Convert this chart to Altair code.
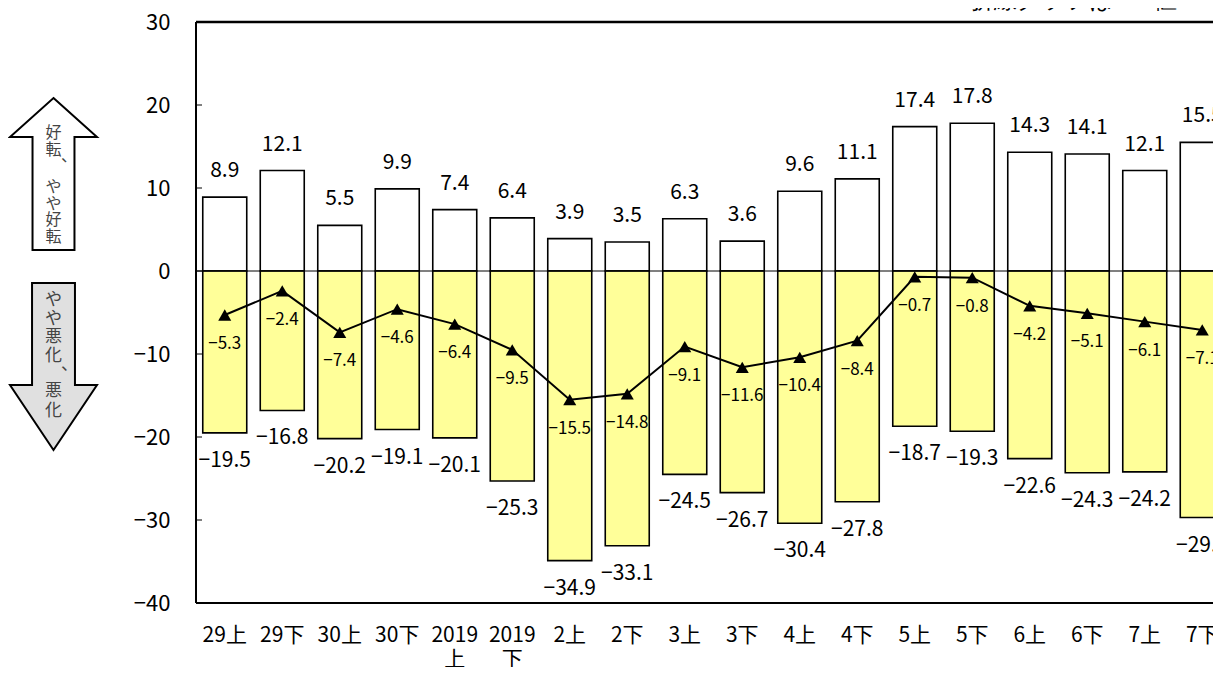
import altair as alt
import pandas as pd

# ---- data ----
categories = ["29上", "29下", "30上", "30下", "2019|上", "2019|下", "2上", "2下", "3上",
              "3下", "4上", "4下", "5上", "5下", "6上", "6下", "7上", "7下"]
improve = [8.9, 12.1, 5.5, 9.9, 7.4, 6.4, 3.9, 3.5, 6.3, 3.6, 9.6, 11.1, 17.4, 17.8, 14.3, 14.1, 12.1, 15.5]
worsen = [-19.5, -16.8, -20.2, -19.1, -20.1, -25.3, -34.9, -33.1, -24.5, -26.7, -30.4, -27.8,
          -18.7, -19.3, -22.6, -24.3, -24.2, -29.7]
bsi = [-5.3, -2.4, -7.4, -4.6, -6.4, -9.5, -15.5, -14.8, -9.1, -11.6, -10.4, -8.4,
       -0.7, -0.8, -4.2, -5.1, -6.1, -7.1]
y_ticks = [-40, -30, -20, -10, 0, 10, 20, 30]
note_text = "折線グラフはBSI値"
up_text_a = ["好", "転"]
up_text_b = ["や", "や", "好", "転"]
down_text_a = ["や", "や", "悪", "化"]
down_text_b = ["悪", "化"]


def fmt(v):
    return f"{v:.1f}".replace("-", "\u2212")


df = pd.DataFrame({
    "cat": categories,
    "pos": improve,
    "neg": worsen,
    "bsi": bsi,
    "zero": [0] * len(categories),
    "pos_l": [fmt(v) for v in improve],
    "neg_l": [fmt(v) for v in worsen],
    "bsi_l": [fmt(v) for v in bsi],
})
ticks_df = pd.DataFrame({"t": y_ticks})
one = pd.DataFrame({"a": [0]})

FONT = "Noto Sans CJK JP"
W, H = 1017, 581      # visible plot width (the band range runs past the window edge)
RANGE_W = 1035

x = alt.X("cat:N", sort=categories,
          scale=alt.Scale(range=[0, RANGE_W], paddingInner=0.235, paddingOuter=0.1175),
          axis=alt.Axis(title=None, labelAngle=0, labelExpr="split(datum.label, '|')",
                        labelFontSize=21, labelFont=FONT, labelColor="black",
                        ticks=False, domain=False, labelPadding=21, labelLineHeight=24))
yscale = alt.Scale(domain=[-40, 30], nice=False, zero=False)


def Y(field):
    return alt.Y(field, type="quantitative", scale=yscale,
                 axis=alt.Axis(values=y_ticks, title=None, grid=False, domain=False, ticks=False,
                               labelPadding=26, labelFontSize=22, labelFont=FONT,
                               labelColor="black", format="d"))


base = alt.Chart(df)

bars_pos = base.mark_bar(fill="white", stroke="black", strokeWidth=1.6).encode(
    x=x, y=Y("pos"), y2="zero")
bars_neg = base.mark_bar(fill="#FFFF99", stroke="black", strokeWidth=1.6).encode(
    x=x, y=Y("neg"), y2="zero")
zero_rule = alt.Chart(one).mark_rule(color="black", strokeWidth=1).encode(
    y=alt.datum(0), x=alt.value(0), x2=alt.value(RANGE_W))
line = base.mark_line(color="black", strokeWidth=2).encode(x=x, y=Y("bsi"))
pts = base.mark_point(shape="triangle-up", size=170, filled=True, color="black", opacity=1).encode(
    x=x, y=Y("bsi"))

lab_pos = base.mark_text(fontSize=21, font=FONT, color="black", baseline="middle", dy=-26).encode(
    x=x, y=Y("pos"), text="pos_l")
lab_neg = base.mark_text(fontSize=21, font=FONT, color="black", baseline="middle", dy=28).encode(
    x=x, y=Y("neg"), text="neg_l")
lab_bsi = base.mark_text(fontSize=17, font=FONT, color="black", baseline="middle", dy=29).encode(
    x=x, y=Y("bsi"), text="bsi_l")

tick_rules = alt.Chart(ticks_df).mark_rule(color="black", strokeWidth=1).encode(
    y=Y("t"), x=alt.value(0), x2=alt.value(6))

# plot frame (right side lies outside the window)
frame_top = alt.Chart(one).mark_rule(color="black", strokeWidth=2.5).encode(
    x=alt.value(0), x2=alt.value(RANGE_W), y=alt.value(0))
frame_bottom = alt.Chart(one).mark_rule(color="black", strokeWidth=2).encode(
    x=alt.value(0), x2=alt.value(RANGE_W), y=alt.value(H))
frame_left = alt.Chart(one).mark_rule(color="black", strokeWidth=2).encode(
    x=alt.value(0), y=alt.value(0), y2=alt.value(H))

up_path = ("M0,-1 L0.572,-0.487 L0.276,-0.487 L0.276,1 L-0.276,1 L-0.276,-0.487 "
           "L-0.572,-0.487 Z")
down_path = ("M-0.257,-1 L0.257,-1 L0.257,0.222 L0.521,0.222 L0,1 L-0.521,0.222 "
             "L-0.257,0.222 Z")

arrow_up = alt.Chart(one).mark_point(shape=up_path, size=152 * 152, fill="white", stroke="black",
                                     strokeWidth=2, opacity=1, fillOpacity=1).encode(
    x=alt.value(-142.5), y=alt.value(152))
arrow_down = alt.Chart(one).mark_point(shape=down_path, size=167 * 167, fill="#E0E0E0",
                                       stroke="black", strokeWidth=2, opacity=1,
                                       fillOpacity=1).encode(
    x=alt.value(-142.5), y=alt.value(344.5))

TXT = dict(font=FONT, color="#444444", baseline="top", align="center")
up_txt_a = alt.Chart(one).mark_text(text=up_text_a, fontSize=16, lineHeight=17, **TXT).encode(
    x=alt.value(-142.5), y=alt.value(103))
up_txt_b = alt.Chart(one).mark_text(text=up_text_b, fontSize=16, lineHeight=16.7, **TXT).encode(
    x=alt.value(-142.5), y=alt.value(157))
up_comma = alt.Chart(one).mark_text(text="、", fontSize=16, font=FONT, color="#444444",
                                    baseline="top", align="left").encode(
    x=alt.value(-135), y=alt.value(126))
down_txt_a = alt.Chart(one).mark_text(text=down_text_a, fontSize=17, lineHeight=18.7, **TXT).encode(
    x=alt.value(-142.5), y=alt.value(270))
down_txt_b = alt.Chart(one).mark_text(text=down_text_b, fontSize=17, lineHeight=20, **TXT).encode(
    x=alt.value(-142.5), y=alt.value(361))
down_comma = alt.Chart(one).mark_text(text="、", fontSize=17, font=FONT, color="#444444",
                                      baseline="top", align="left").encode(
    x=alt.value(-135), y=alt.value(335))

note = alt.Chart(one).mark_text(text=note_text, fontSize=23, font="DejaVu Serif", color="black",
                                baseline="bottom", align="center").encode(
    x=alt.value(878), y=alt.value(-9))

chart = alt.layer(
    bars_pos, bars_neg, zero_rule, line, pts, lab_pos, lab_neg, lab_bsi, tick_rules,
    frame_top, frame_bottom, frame_left,
    arrow_up, arrow_down, up_txt_a, up_txt_b, up_comma, down_txt_a, down_txt_b, down_comma, note
).properties(
    width=W, height=H,
    autosize=alt.AutoSizeParams(type="none"),
    padding={"left": 188, "top": 14, "right": 0, "bottom": 64},
).configure_view(stroke=None).configure(background="white")

chart.save("out.html", embed_options={"renderer": "svg", "actions": False})
